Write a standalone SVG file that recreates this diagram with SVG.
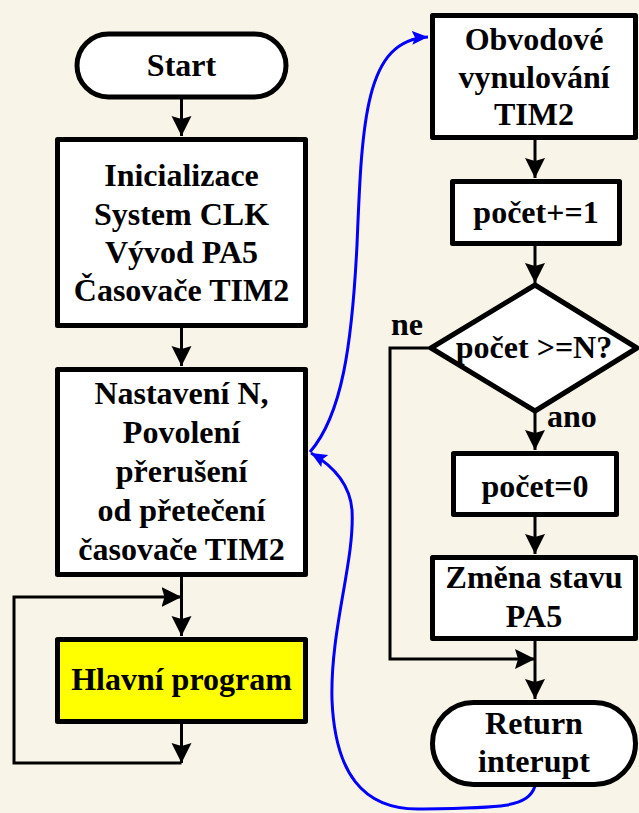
<svg xmlns="http://www.w3.org/2000/svg" width="639" height="813" viewBox="0 0 639 813" font-family="Liberation Serif, Times New Roman, Tinos, DejaVu Serif, serif" font-weight="bold" font-size="32">
<defs>
<style>
.box{fill:#ffffff;stroke:#000;stroke-width:5;stroke-linejoin:round}
.hl{fill:#ffff00}
.t{text-anchor:middle}
.c{fill:none;stroke:#000;stroke-width:3}
.b{fill:none;stroke:#0000ff;stroke-width:3}
</style>
<marker id="ah" markerUnits="userSpaceOnUse" markerWidth="22" markerHeight="22" refX="20" refY="10" orient="auto" viewBox="0 0 22 22">
<path d="M0,0 L20,10 L0,20 L3,10 z" fill="#000"/>
</marker>
<marker id="bh" markerUnits="userSpaceOnUse" markerWidth="18" markerHeight="18" refX="16" refY="7" orient="auto" viewBox="0 0 18 18">
<path d="M0,0 L16,7 L0,14 L3,7 z" fill="#0000ff"/>
</marker>
</defs>
<rect x="0" y="0" width="639" height="813" fill="#f8f4e8"/>

<g id="connectors">
<path class="c" d="M181.5,99 L181.5,136" marker-end="url(#ah)"/>
<path class="c" d="M181.5,328 L181.5,366" marker-end="url(#ah)"/>
<path class="c" d="M181.5,577 L181.5,636" marker-end="url(#ah)"/>
<path class="c" d="M181.5,763 L14,763 L14,597 L181.5,597" marker-end="url(#ah)"/>
<path class="c" d="M181.5,724 L181.5,763" marker-end="url(#ah)"/>
<path class="c" d="M535,140 L535,178" marker-end="url(#ah)"/>
<path class="c" d="M535,246 L535,283" marker-end="url(#ah)"/>
<path class="c" d="M535,411 L535,450" marker-end="url(#ah)"/>
<path class="c" d="M535,517 L535,554" marker-end="url(#ah)"/>
<path class="c" d="M535,641 L535,699" marker-end="url(#ah)"/>
<path class="c" d="M431,348 L390,348 L390,659 L535,659" marker-end="url(#ah)"/>
<path class="b" d="M310,452 C342,415 352,345 357,245 C362,120 365,40 428,37" marker-end="url(#bh)"/>
<path class="b" d="M535,786 C528,808 500,808 420,809 C362,810 335,772 332,700 C330,630 355,560 352,510 C350,485 335,467 311,453" marker-end="url(#bh)"/>
</g>

<g id="start">
<rect class="box" x="77" y="34" width="209" height="63" rx="31.5"/>
<text class="t" x="181.5" y="76">Start</text>
</g>

<g id="init">
<rect class="box" x="57.5" y="139.5" width="248" height="186"/>
<text class="t" x="181.5" y="186">Inicializace</text>
<text class="t" x="181.5" y="225">System CLK</text>
<text class="t" x="181.5" y="263">Vývod PA5</text>
<text class="t" x="181.5" y="301">Časovače TIM2</text>
</g>

<g id="nastaveni">
<rect class="box" x="57.5" y="369.5" width="248" height="205"/>
<text class="t" x="181.5" y="404">Nastavení N,</text>
<text class="t" x="181.5" y="443">Povolení</text>
<text class="t" x="181.5" y="482">přerušení</text>
<text class="t" x="181.5" y="521">od přetečení</text>
<text class="t" x="181.5" y="560">časovače TIM2</text>
</g>

<g id="hlavni">
<rect class="box hl" x="57.5" y="639.5" width="248" height="82"/>
<text class="t" x="181.5" y="690">Hlavní program</text>
</g>

<g id="obvodove">
<rect class="box" x="432.5" y="15.5" width="203" height="122"/>
<text class="t" x="534" y="50">Obvodové</text>
<text class="t" x="534" y="88">vynulování</text>
<text class="t" x="534" y="125">TIM2</text>
</g>

<g id="pocet-inc">
<rect class="box" x="452.5" y="181.5" width="167" height="62"/>
<text class="t" x="536" y="223">počet+=1</text>
</g>

<g id="decision">
<polygon class="box" points="535,285 637,348 535,411 431,348"/>
<text class="t" x="534" y="358">počet &gt;=N?</text>
<text x="391" y="335">ne</text>
<text x="547" y="427">ano</text>
</g>

<g id="pocet-zero">
<rect class="box" x="453.5" y="453.5" width="163" height="61"/>
<text class="t" x="535" y="497">počet=0</text>
</g>

<g id="zmena">
<rect class="box" x="432.5" y="557.5" width="203" height="81"/>
<text class="t" x="534" y="588">Změna stavu</text>
<text class="t" x="534" y="627">PA5</text>
</g>

<g id="return">
<rect class="box" x="432.5" y="702.5" width="203" height="82" rx="41"/>
<text class="t" x="534" y="734">Return</text>
<text class="t" x="534" y="772">interupt</text>
</g>
</svg>
